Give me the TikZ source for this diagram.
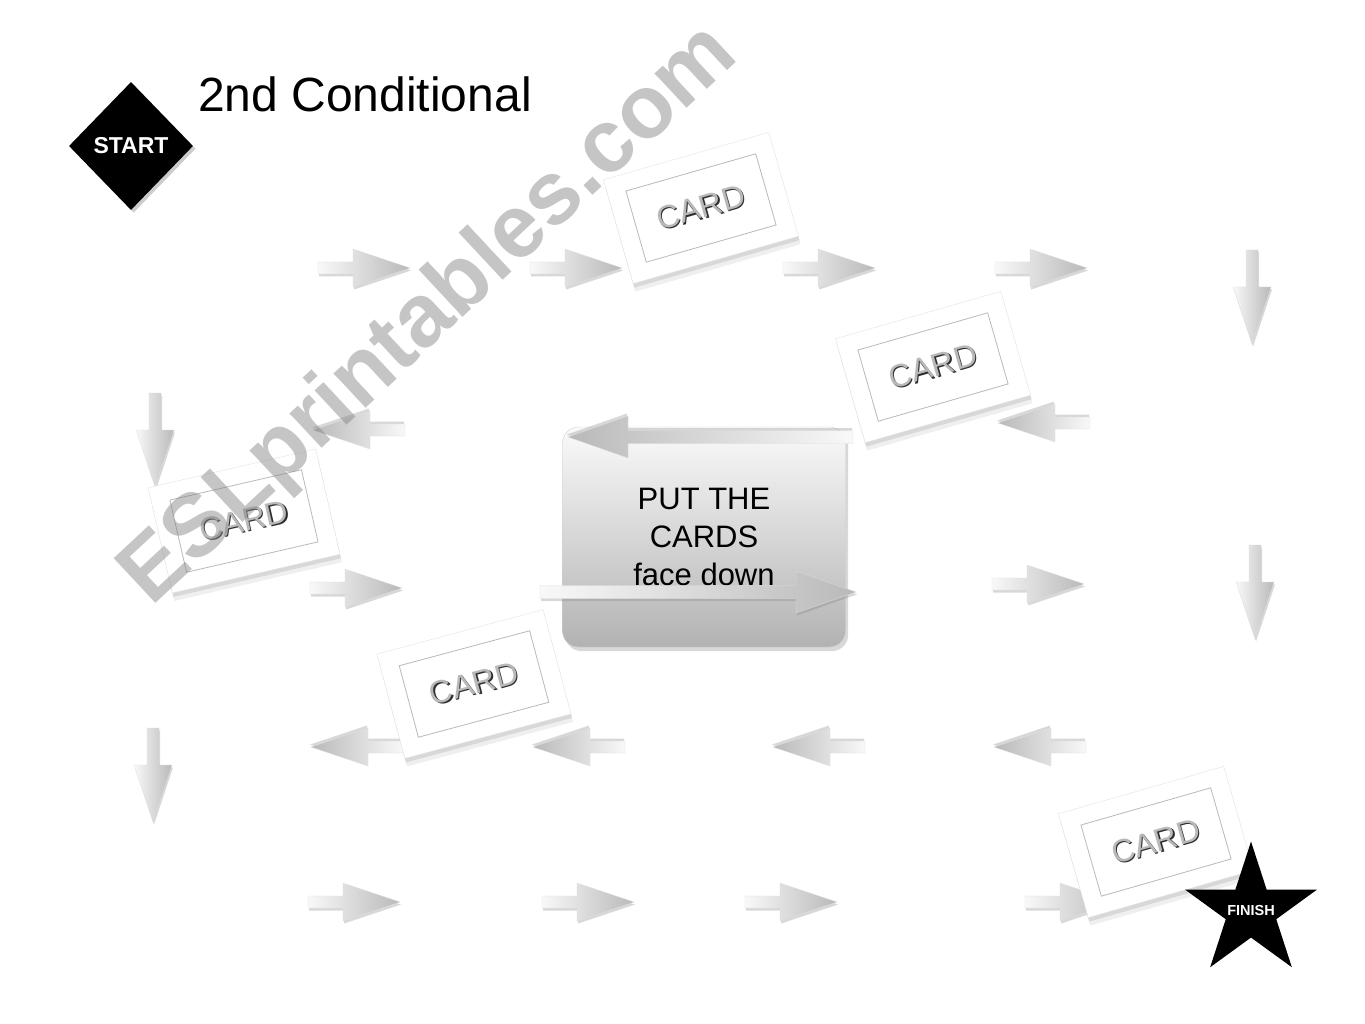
\documentclass[tikz,border=0pt]{standalone}
\usepackage{fontspec}
\setmainfont{Liberation Sans}
\usetikzlibrary{shapes.geometric}
\usetikzlibrary{shadows}

% 箭头图形: #1 = 总长度
\tikzset{
  flow/.pic={
    \shade[flowbody] (0,-6) -- (#1-57,-6) -- (#1-57,-19) -- (#1,0)
      -- (#1-57,19) -- (#1-57,6) -- (0,6) -- cycle;
  },
  bigflow/.pic={
    \shade[flowbody] (0,-6.5) -- (#1-60,-6.5) -- (#1-60,-21) -- (#1,0)
      -- (#1-60,21) -- (#1-60,6.5) -- (0,6.5) -- cycle;
  }
}
% 带阴影的卡片文字
\newcommand{\embossed}[1]{\makebox[0pt][l]{\hspace{1pt}\raisebox{-1.5pt}{\color{gray!35!black}#1}}#1}

\begin{document}
\begin{tikzpicture}[x=1pt, y=-1pt]
        % 定义样式
        \tikzstyle{flowbody}=[left color=gray!5, right color=gray!55, draw=gray!25, line width=0.3pt,
            drop shadow={shadow xshift=1pt, shadow yshift=-2.5pt, opacity=.3}]
        \tikzstyle{flowleft}=[left color=gray!55, right color=gray!5, draw=gray!25, line width=0.3pt,
            drop shadow={shadow xshift=-1pt, shadow yshift=2.5pt, opacity=.3}]
        \tikzstyle{card}=[rectangle, fill=white, draw=gray!22, minimum width=172pt, minimum height=108pt,
            inner sep=0pt, drop shadow={shadow xshift=2pt, shadow yshift=-8pt, opacity=.12},
            drop shadow={shadow xshift=1pt, shadow yshift=-4pt, opacity=.2}]
        \tikzstyle{cardframe}=[rectangle, draw=gray!55, line width=0.8pt, minimum width=135pt,
            minimum height=74pt, inner sep=0pt]
        \tikzstyle{cardtext}=[text=gray!55, font=\fontsize{32}{32}\selectfont, inner sep=0pt]
        \tikzstyle{board}=[rectangle, rounded corners=16pt, minimum width=283pt, minimum height=220pt,
            top color=gray!4, bottom color=gray!60, draw=gray!35, align=center,
            font=\fontsize{31}{38}\selectfont, drop shadow={shadow yshift=-4pt, opacity=.3}]

        % 背景
        \fill[white] (0,0) rectangle (1365,1024);
        \useasboundingbox (0,0) rectangle (1365,1024);

        % 标题与起点
        \node[anchor=base west, inner sep=0pt, font=\fontsize{48}{48}\selectfont] (title) at (198,112) {2nd Conditional};
        \node[diamond, fill=black, minimum width=124pt, minimum height=128pt, inner sep=0pt, text=white,
            font=\fontsize{23}{23}\selectfont\bfseries, drop shadow={opacity=.4}] (start) at (131,146) {START};

        % 小箭头: 向右, 向左, 向下
        \foreach \x/\y in {318/268, 530/268, 783/268, 995/268, 310/588, 992/584,
                           308/902, 542/902, 745/902, 1025/902} {
            \pic at (\x,\y) {flow=92};
        }
        \foreach \x/\y in {405/430, 1090/423, 403/747, 625/747, 865/747, 1086/747} {
            \pic[rotate=180, flowbody/.style={flowleft}] at (\x,\y) {flow=92};
        }
        \foreach \x/\y in {1252/250, 155/393, 1255/545, 153/728} {
            \pic[rotate=-90] at (\x,\y) {flow=94};
        }

        % 中间的提示框和两条长箭头
        \node[board] (rules) at (704,537) {PUT THE\\CARDS\\face down};
        \pic[rotate=180, flowbody/.style={flowleft}] at (853,437) {bigflow=285};
        \pic at (540,592) {bigflow=316};

        % 卡片 (覆盖在箭头上方)
        \foreach \n/\x/\y/\a in {1/701/208/16, 2/933/367/16, 3/244/521/13, 4/474/684/15, 5/1156/842/16} {
            \node[card, rotate=\a] (card\n) at (\x,\y) {};
            \node[cardframe, rotate=\a] (frame\n) at (card\n) {};
            \node[cardtext, rotate=\a] (word\n) at (card\n) {\embossed{CARD}};
        }

        % 终点
        \node[star, star points=5, star point ratio=2.618, minimum size=139pt, inner sep=0pt, fill=black,
            label={[text=white, font=\fontsize{14.5}{14.5}\selectfont\bfseries]center:FINISH}] (finish) at (1251,911) {};

        % 水印
        \node[rotate=43, anchor=base, text=gray, text opacity=.45, inner sep=0pt,
            font=\fontsize{89}{89}\selectfont\bfseries] (mark) at (446,333) {ESLprintables.com};
\end{tikzpicture}
\end{document}
